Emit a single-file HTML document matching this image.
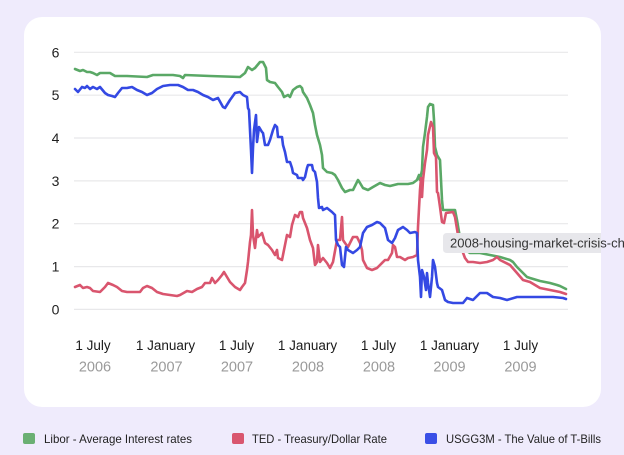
<!DOCTYPE html>
<html>
<head>
<meta charset="utf-8">
<style>
  html,body{margin:0;padding:0;background:#efebfc;}
  body{width:624px;height:455px;overflow:hidden;}
  svg{display:block;}
  text{font-family:"Liberation Sans",sans-serif;}
</style>
</head>
<body>
<svg width="624" height="455" viewBox="0 0 624 455" xmlns="http://www.w3.org/2000/svg">
  <rect x="0" y="0" width="624" height="455" fill="#efebfc"/>
  <rect x="24" y="17" width="577" height="390" rx="18" ry="18" fill="#ffffff"/>

  <!-- gridlines -->
  <g stroke="#e8e8ea" stroke-width="1.2">
    <line x1="74" y1="52.3" x2="568" y2="52.3"/>
    <line x1="74" y1="95.2" x2="568" y2="95.2"/>
    <line x1="74" y1="138" x2="568" y2="138"/>
    <line x1="74" y1="180.9" x2="568" y2="180.9"/>
    <line x1="74" y1="223.7" x2="568" y2="223.7"/>
    <line x1="74" y1="266.6" x2="568" y2="266.6"/>
    <line x1="74" y1="309.4" x2="568" y2="309.4"/>
  </g>

  <!-- y labels -->
  <g font-size="14" fill="#1f1f1f" text-anchor="middle">
    <text x="55.5" y="57.3">6</text>
    <text x="55.5" y="100.2">5</text>
    <text x="55.5" y="143">4</text>
    <text x="55.5" y="185.9">3</text>
    <text x="55.5" y="228.7">2</text>
    <text x="55.5" y="271.6">1</text>
    <text x="55.5" y="314.4">0</text>
  </g>

  <!-- x labels -->
  <g font-size="13.5" fill="#1a1a1a" text-anchor="middle">
    <text x="93" y="350">1 July</text>
    <text x="165.5" y="350">1 January</text>
    <text x="236.5" y="350">1 July</text>
    <text x="307.5" y="350">1 January</text>
    <text x="378.5" y="350">1 July</text>
    <text x="449.5" y="350">1 January</text>
    <text x="520.5" y="350">1 July</text>
  </g>
  <g font-size="14.5" fill="#9a9a9a" text-anchor="middle">
    <text x="95" y="371.5">2006</text>
    <text x="166.5" y="371.5">2007</text>
    <text x="237" y="371.5">2007</text>
    <text x="308" y="371.5">2008</text>
    <text x="379" y="371.5">2008</text>
    <text x="449.5" y="371.5">2009</text>
    <text x="520.5" y="371.5">2009</text>
  </g>

  <!-- series -->
  <g fill="none" stroke-width="2.6" stroke-linejoin="round" stroke-linecap="round">
    <polyline stroke="#5aa866" points="75,69 80,71 83,70 87,72 90,72 93,73 97,75 100,73 110,73 115,76 127,76 147,77 153,75 173,75 180,76 183,78 185,75 210,76 240,77 245,73 248,67 252,70 255,68 260,62 263,62 266,68 267,80 270,82 275,83 278,87 282,92 284,97 288,95 290,97 293,90 297,87 300,86 302,88 303,92 307,98 310,105 313,113 315,125 317,135 320,145 322,155 323,168 327,172 332,173 335,175 338,180 342,188 345,192 350,190 353,190 357,182 358,180 360,183 363,188 368,190 373,187 380,183 385,185 390,186 398,184 408,184 413,183 417,180 419,175 420,180 422,170 423,147 425,133 427,117 428,107 430,104 433,105 434,120 435,147 437,155 440,160 441,180 442,200 443,210 455,210 457,220 459,232 462,248 470,253 480,253 490,255 500,257 510,260 513,262 517,267 523,273 527,277 530,278 540,281 550,283 557,285 560,286 566,289"/>
    <polyline stroke="#d9556e" points="75,287 80,285 83,288 87,287 90,288 93,291 100,292 105,287 108,283 113,285 117,287 122,291 127,292 140,292 143,288 147,286 152,288 157,292 163,294 170,295 177,296 180,295 187,291 192,292 197,289 202,287 205,283 210,283 212,278 215,283 218,280 222,275 224,272 227,277 230,282 235,287 240,290 242,287 245,283 247,270 248,262 250,242 251,235 252,210 253,235 255,248 257,230 258,237 262,233 265,243 268,245 272,250 275,255 277,250 278,258 282,260 285,245 287,235 290,237 292,225 295,215 298,217 300,212 302,212 303,218 307,228 310,240 313,248 315,265 317,262 318,245 320,262 323,258 327,263 330,268 333,262 337,240 340,240 342,217 343,240 345,243 348,247 353,237 357,237 360,243 362,250 363,260 367,268 372,270 377,268 380,265 385,260 388,260 392,253 393,245 395,247 397,257 400,257 405,260 408,258 413,257 417,255 418,227 420,190 421,178 422,197 423,180 425,163 427,150 428,135 431,122 433,127 434,153 436,157 437,192 438,193 440,207 442,222 444,223 446,213 453,212 455,217 458,235 462,250 465,258 468,262 473,262 480,263 487,262 493,260 497,257 500,260 510,265 517,273 523,280 530,282 540,288 550,290 560,292 566,294"/>
    <polyline stroke="#3449e3" points="75,89 78,92 82,87 85,88 87,86 90,89 93,87 97,89 100,87 105,93 108,95 112,96 115,97 118,93 122,88 127,88 132,87 137,90 142,92 147,95 152,93 157,89 163,86 170,85 178,85 183,87 188,90 193,90 198,92 203,95 208,97 213,100 218,98 223,107 225,108 230,100 235,93 240,92 243,95 247,97 248,108 249,110 251,150 252,173 253,148 254,130 256,115 257,142 259,127 262,132 263,133 265,145 268,145 270,140 273,130 275,125 277,127 278,137 282,137 283,145 285,152 287,162 290,162 292,168 293,173 297,175 298,178 302,178 303,180 305,177 307,168 308,165 312,165 313,170 315,172 317,182 318,198 319,208 322,207 323,210 327,208 332,212 335,215 336,240 338,245 340,247 342,265 344,267 346,247 348,250 353,253 357,250 360,247 363,233 367,227 372,225 377,222 380,223 385,228 388,240 392,243 395,238 398,230 403,227 407,230 410,233 415,232 417,233 418,260 420,277 421,297 422,270 424,277 426,290 427,273 428,283 430,297 432,277 433,260 435,267 437,283 438,287 442,290 445,300 448,302 453,303 463,303 467,298 473,300 480,293 487,293 493,297 500,298 507,300 517,297 533,297 553,297 563,298 566,299"/>
  </g>

  <!-- tooltip -->
  <path d="M447,233 H601 V253 H447 Q443,253 443,249 V237 Q443,233 447,233 Z" fill="#e7e7eb"/>
  <text x="450" y="247.5" font-size="13" fill="#333333">2008-housing-market-crisis-ch</text>

  <!-- legend -->
  <rect x="23" y="433" width="12" height="11" rx="2" fill="#6aaf73"/>
  <text x="44" y="443" font-size="12" fill="#222" textLength="148" lengthAdjust="spacingAndGlyphs">Libor - Average Interest rates</text>
  <rect x="232" y="433" width="12" height="11" rx="2" fill="#d9566f"/>
  <text x="252" y="443" font-size="12" fill="#222" textLength="135" lengthAdjust="spacingAndGlyphs">TED - Treasury/Dollar Rate</text>
  <rect x="425" y="433" width="12" height="11" rx="2" fill="#3a4fe6"/>
  <text x="446" y="443" font-size="12" fill="#222" textLength="155" lengthAdjust="spacingAndGlyphs">USGG3M - The Value of T-Bills</text>
</svg>
</body>
</html>
